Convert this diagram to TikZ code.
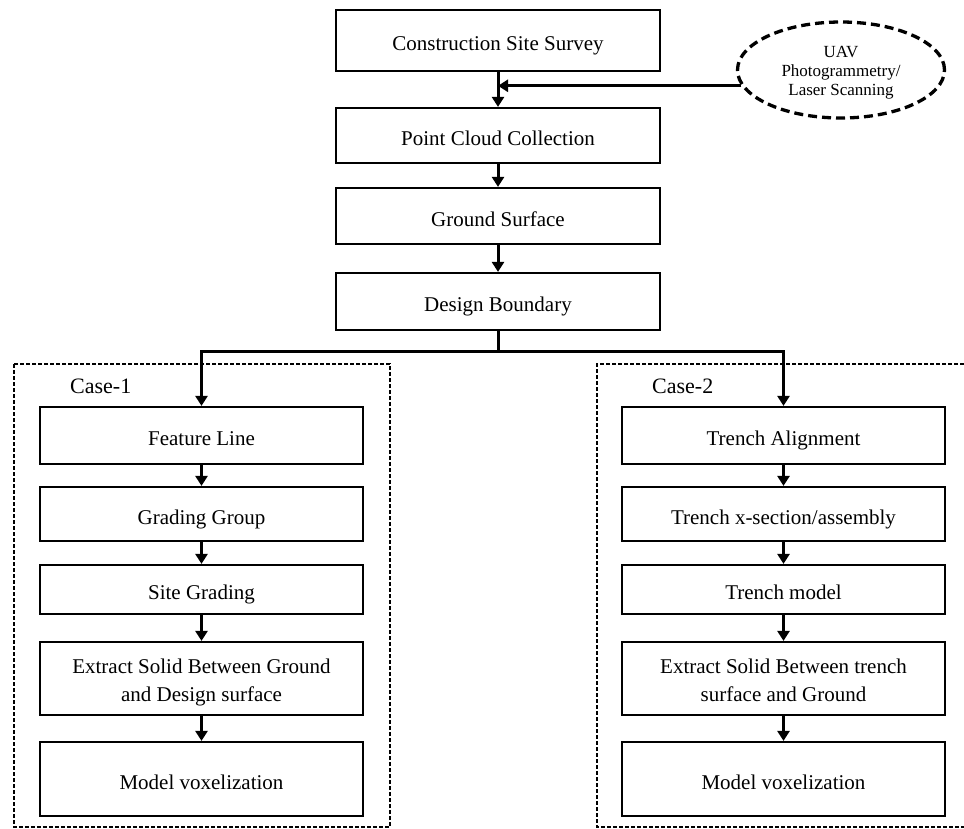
\documentclass[tikz,border=0pt]{standalone}
\usepackage{fontspec}
\setmainfont{Liberation Serif}
\usetikzlibrary{arrows.meta,shapes.geometric}
\begin{document}
\begin{tikzpicture}[x=1pt,y=-1pt,
  box/.style={draw,line width=2.2pt,minimum width=323pt,inner sep=2pt,align=center,font=\fontsize{21pt}{28pt}\selectfont,text height=20pt,text depth=0pt},
  twoline/.style={text height=45pt,text depth=0pt},
  conn/.style={line width=3pt},
  arr/.style={line width=3pt,-{Triangle[width=12pt,length=10pt]}},
  casebox/.style={draw,line width=1.1pt,dash pattern=on 4pt off 2pt},
  lab/.style={font=\fontsize{22pt}{26pt}\selectfont,anchor=west,inner sep=0pt}]
\useasboundingbox (0,0) rectangle (964,828);
% top chain
\node[box,minimum width=324pt,minimum height=61pt] (css) at (498,40.5) {Construction Site Survey};
\node[box,minimum width=324pt,minimum height=55pt] (pcc) at (498,135.5) {Point Cloud Collection};
\node[box,minimum width=324pt,minimum height=56pt] (gs) at (498,216) {Ground Surface};
\node[box,minimum width=324pt,minimum height=57pt] (db) at (498,301.5) {Design Boundary};
\node[ellipse,draw,line width=3.3pt,dash pattern=on 9pt off 5pt,minimum width=207pt,minimum height=96pt,inner sep=0pt,align=center,font=\fontsize{17pt}{19pt}\selectfont,text height=51pt,text depth=0pt] (ell) at (841,70) {UAV\\Photogrammetry/\\Laser Scanning};
% case boxes
\draw[casebox] (14,364) rectangle (390,827);
\draw[casebox] (964,364) -- (597,364) -- (597,827) -- (964,827);
\node[lab] (c1) at (70,386) {Case-1};
\node[lab] (c2) at (652,386) {Case-2};
% left column
\node[box,minimum height=57pt] (fl) at (201.5,435.5) {Feature Line};
\node[box,minimum height=54pt] (gg) at (201.5,514) {Grading Group};
\node[box,minimum height=49pt] (sg) at (201.5,589.5) {Site Grading};
\node[box,twoline,minimum height=73pt] (ex1) at (201.5,678.5) {Extract Solid Between Ground\\and Design surface};
\node[box,minimum height=74pt] (mv1) at (201.5,779) {Model voxelization};
% right column
\node[box,minimum height=57pt] (ta) at (783.5,435.5) {Trench Alignment};
\node[box,minimum height=54pt] (tx) at (783.5,514) {Trench x-section/assembly};
\node[box,minimum height=49pt] (tm) at (783.5,589.5) {Trench model};
\node[box,twoline,minimum height=73pt] (ex2) at (783.5,678.5) {Extract Solid Between trench\\surface and Ground};
\node[box,minimum height=74pt] (mv2) at (783.5,779) {Model voxelization};
% connectors
\draw[arr] (css) -- (pcc);
\draw[arr] (ell.189) -- (ell.189 -| css.south);
\draw[arr] (pcc) -- (gs);
\draw[arr] (gs) -- (db);
\coordinate (br) at (498,351);
\draw[conn] (db.south) -- (br);
\draw[arr] ([xshift=1.5pt]br) -| (fl.north);
\draw[arr] ([xshift=-1.5pt]br) -| (ta.north);
\draw[arr] (fl) -- (gg);
\draw[arr] (gg) -- (sg);
\draw[arr] (sg) -- (ex1);
\draw[arr] (ex1) -- (mv1);
\draw[arr] (ta) -- (tx);
\draw[arr] (tx) -- (tm);
\draw[arr] (tm) -- (ex2);
\draw[arr] (ex2) -- (mv2);
\end{tikzpicture}
\end{document}
